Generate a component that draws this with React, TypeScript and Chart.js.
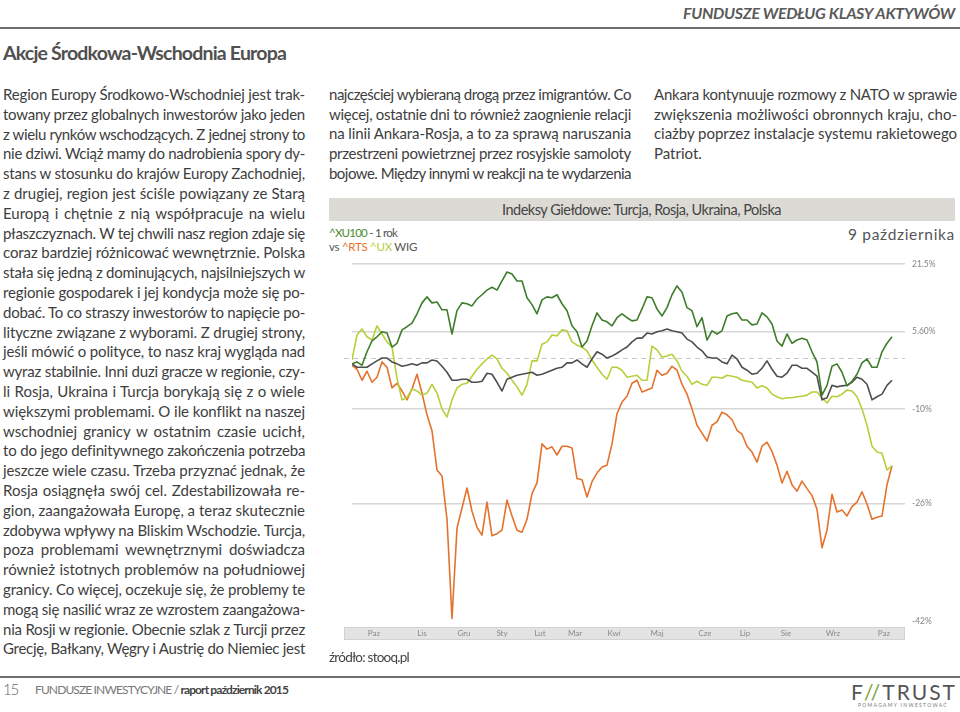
import React, { useEffect, useLayoutEffect, useRef } from 'react';
import { Chart, registerables } from 'chart.js';

Chart.register(...registerables);

// ---------- DATA ----------
const monthLabels = ['Paz', 'Lis', 'Gru', 'Sty', 'Lut', 'Mar', 'Kwi', 'Maj', 'Cze', 'Lip', 'Sie', 'Wrz', 'Paz'];
const monthTickAt = [4.4, 14, 22.4, 30, 37.6, 44.6, 52.4, 61, 70.6, 78.6, 86.8, 96.2, 106.4];
const yTickValues = [21.5, 5.6, -10, -26, -42];
const yTickLabels = ['21.5%', '5.60%', '-10%', '-26%', '-42%'];

// % change vs start, sampled evenly over one year (Oct 2014 - Oct 2015)
const xu100 = [
  -1.2, -0.8, -1.5, 1.3, 3.6, 4.5, 5.6, 5.3, 2.3, 3.1,
  6.0, 6.7, 7.5, 9.6, 12.1, 13.5, 12.1, 12.3, 10.5, 10.5,
  5.1, 10.3, 12.1, 11.9, 11.4, 13.0, 14.0, 15.1, 15.8, 15.1,
  17.3, 19.5, 19.0, 17.3, 17.3, 13.3, 11.7, 9.6, 12.8, 13.5,
  13.3, 14.0, 11.9, 10.3, 6.9, 5.6, 2.3, 3.6, 6.9, 9.8,
  8.2, 7.8, 6.9, 8.7, 9.6, 8.7, 8.0, 8.2, 10.7, 13.5,
  13.3, 10.7, 9.1, 11.0, 14.0, 16.1, 14.6, 11.0, 10.3, 6.7,
  8.7, 3.8, 5.8, 5.1, 5.8, 9.1, 9.6, 9.8, 8.2, 8.2,
  7.1, 7.3, 9.8, 8.9, 7.3, 3.6, 2.5, 5.1, 3.1, 3.8,
  4.2, 3.8, 1.3, -0.8, -7.4, -5.5, -1.7, -1.2, -2.9, -5.6,
  -4.7, -3.3, -1.0, -0.2, -1.9, -1.9, 1.3, 3.1, 4.5,
];
const rts = [
  -1.5, -2.3, -4.5, -2.7, -4.9, -3.9, -0.8, -1.9, -6.0, -5.1,
  -6.6, -8.3, -6.2, -3.3, -7.0, -11.1, -14.0, -20.7, -21.7, -28.4,
  -41.7, -29.7, -26.7, -23.6, -27.2, -29.6, -30.7, -25.8, -30.8, -30.5,
  -30.0, -25.5, -27.9, -30.0, -30.3, -28.4, -24.5, -22.8, -16.3, -17.2,
  -16.8, -18.2, -16.7, -16.7, -17.0, -22.1, -22.3, -25.0, -22.6, -21.2,
  -20.2, -19.9, -16.3, -10.9, -8.7, -7.6, -5.1, -4.5, -6.8, -6.4,
  -6.0, -2.5, -3.5, -3.1, -1.7, -2.5, -5.3, -7.2, -10.0, -13.0,
  -14.4, -15.8, -13.0, -12.4, -10.6, -11.1, -12.0, -13.9, -14.6, -16.7,
  -17.7, -19.4, -16.7, -16.0, -17.6, -19.9, -22.8, -20.9, -23.1, -24.1,
  -22.5, -23.7, -24.8, -26.9, -32.5, -30.0, -24.6, -27.3, -27.0, -27.9,
  -26.5, -25.8, -24.2, -26.1, -28.4, -28.1, -27.9, -23.1, -20.0,
];
const ux = [
  -0.4, 4.9, 6.2, 4.5, 3.8, 6.9, 5.1, 3.4, 2.3, -4.1,
  -8.3, -7.9, -6.2, -6.6, -7.4, -7.0, -5.3, -7.0, -10.0, -11.5,
  -8.3, -6.0, -5.3, -5.1, -3.7, -2.3, -1.2, -0.2, 0.6, -0.2,
  -2.1, -3.1, -4.5, -5.8, -7.4, -5.3, -0.6, -0.6, 2.9, 3.4,
  4.9, 4.7, 6.0, 5.8, 3.4, 2.7, 2.3, 1.5, -0.4, -1.9,
  -3.3, -4.3, -1.9, -1.9, -2.5, -3.9, -3.7, -3.5, -4.5, -4.5,
  2.5, 1.7, 0.2, 0.4, 0.8, -0.6, -2.7, -3.7, -5.3, -4.7,
  -5.3, -5.5, -3.9, -3.9, -4.1, -3.5, -3.7, -3.9, -4.5, -4.7,
  -4.9, -6.0, -5.6, -6.0, -7.2, -7.7, -8.1, -7.9, -7.9, -7.7,
  -7.6, -7.4, -6.8, -6.8, -7.9, -8.9, -7.6, -7.7, -7.2, -6.4,
  -6.6, -7.7, -10.0, -13.0, -16.7, -17.7, -17.9, -20.7, -20.0,
];
const wig = [
  -1.2, -1.9, -1.9, -1.9, -1.2, -0.6, 0.0, 0.0, -0.8, -1.2,
  -1.7, -1.5, -1.2, -1.5, -1.0, -1.0, -0.4, -0.6, -1.7, -2.9,
  -4.5, -4.5, -4.3, -4.3, -4.9, -4.9, -4.7, -3.1, -3.3, -4.9,
  -6.6, -4.3, -3.9, -3.5, -3.3, -3.1, -2.9, -3.5, -3.3, -2.9,
  -2.5, -2.1, -1.9, -1.0, -1.0, -0.4, -1.2, -1.9, -0.2, 1.3,
  0.8, 0.0, 0.4, 1.0, 1.7, 2.3, 3.4, 4.2, 4.2, 5.3,
  5.1, 5.6, 5.8, 6.2, 5.8, 5.6, 5.3, 4.0, 3.4, 2.3,
  1.5, 0.2, 0.0, 0.0, -0.8, -1.2, 0.6, -0.2, -1.9, -2.5,
  -3.3, -3.1, -2.1, -0.6, -2.3, -3.7, -3.9, -3.1, -1.5, -1.5,
  -2.1, -2.1, -2.9, -3.7, -8.3, -7.9, -5.5, -5.8, -5.6, -5.5,
  -4.9, -3.9, -4.3, -5.3, -8.3, -7.7, -7.2, -5.5, -4.5,
];

// ---------- TEXT ----------
const leftLines = [
  'Region  Europy Środkowo-Wschodniej jest trak-',
  'towany przez globalnych inwestorów jako jeden',
  'z wielu rynków wschodzących. Z jednej strony to',
  'nie dziwi. Wciąż mamy do nadrobienia spory dy-',
  'stans w stosunku do krajów Europy Zachodniej,',
  'z drugiej, region jest ściśle powiązany ze Starą',
  'Europą i chętnie z nią współpracuje na wielu',
  'płaszczyznach. W tej chwili nasz region zdaje się',
  'coraz bardziej różnicować wewnętrznie. Polska',
  'stała się jedną z dominujących, najsilniejszych w',
  'regionie gospodarek i jej kondycja może się po-',
  'dobać. To co straszy inwestorów to napięcie po-',
  'lityczne związane z wyborami. Z drugiej strony,',
  'jeśli mówić o polityce, to nasz kraj wygląda nad',
  'wyraz stabilnie. Inni duzi gracze w regionie, czy-',
  'li Rosja, Ukraina i Turcja borykają się z o wiele',
  'większymi problemami. O ile konflikt na naszej',
  'wschodniej granicy w ostatnim czasie ucichł,',
  'to do jego definitywnego zakończenia potrzeba',
  'jeszcze wiele czasu. Trzeba przyznać jednak, że',
  'Rosja osiągnęła swój cel. Zdestabilizowała re-',
  'gion, zaangażowała Europę, a teraz skutecznie',
  'zdobywa wpływy na Bliskim Wschodzie. Turcja,',
  'poza problemami wewnętrznymi doświadcza',
  'również istotnych problemów na południowej',
  'granicy. Co więcej, oczekuje się, że problemy te',
  'mogą się nasilić wraz ze wzrostem zaangażowa-',
  'nia Rosji w regionie. Obecnie szlak z Turcji przez',
  'Grecję, Bałkany, Węgry i Austrię do Niemiec jest',
];
const midLines = [
  'najczęściej wybieraną drogą przez imigrantów. Co',
  'więcej, ostatnie dni to również zaognienie relacji',
  'na linii Ankara-Rosja, a to za sprawą naruszania',
  'przestrzeni powietrznej przez rosyjskie samoloty',
  'bojowe. Między innymi w reakcji na te wydarzenia',
];
const rightLines = [
  'Ankara kontynuuje rozmowy z NATO w sprawie',
  'zwiększenia możliwości obronnych kraju, cho-',
  'ciażby poprzez instalacje systemu rakietowego',
  'Patriot.',
];

const FONT = 'Lato, "Noto Sans", sans-serif';
const TEXT = '#3e3e3e';

type FitProps = {
  left: number;
  top: number;
  width: number;
  mode?: 'justify' | 'letter' | 'shrink';
  style?: React.CSSProperties;
  children: React.ReactNode;
};

function Fit({ left, top, width, mode = 'justify', style, children }: FitProps) {
  const ref = useRef<HTMLSpanElement>(null);
  useLayoutEffect(() => {
    const el = ref.current;
    if (!el) return;
    const apply = () => {
      el.style.letterSpacing = '0px';
      el.style.wordSpacing = '0px';
      const natural = el.getBoundingClientRect().width;
      const text = el.textContent || '';
      const spaces = (text.replace(/ +/g, ' ').match(/ /g) || []).length;
      const chars = text.replace(/ +/g, ' ').length;
      const diff = width - natural;
      if (mode === 'letter') {
        el.style.letterSpacing = diff / chars + 'px';
      } else if (diff < 0) {
        el.style.letterSpacing = diff / chars + 'px';
      } else if (mode === 'justify' && spaces > 0) {
        el.style.wordSpacing = diff / spaces + 'px';
      }
    };
    apply();
    const f = (document as any).fonts;
    if (f && f.ready) f.ready.then(apply);
  }, [width, mode]);
  return (
    <div style={{ position: 'absolute', left, top, width, whiteSpace: 'nowrap', ...style }}>
      <span ref={ref} style={{ display: 'inline-block' }}>
        {children}
      </span>
    </div>
  );
}

function StockChart() {
  const canvasRef = useRef<HTMLCanvasElement>(null);
  useEffect(() => {
    const canvas = canvasRef.current;
    if (!canvas) return;
    const toPts = (arr: number[]) => arr.map((v, i) => ({ x: i, y: 1 + v / 100 }));
    const tickRatios = yTickValues.map((v) => 1 + v / 100);
    const decor = {
      id: 'decor',
      beforeDraw(chart: any) {
        const { ctx, chartArea } = chart;
        ctx.save();
        ctx.fillStyle = '#e3e3e3';
        ctx.strokeStyle = '#d2d2d2';
        ctx.lineWidth = 1;
        const x0 = chartArea.left - 8;
        const y0 = chartArea.bottom + 6;
        ctx.fillRect(x0, y0, chartArea.right - x0, 13);
        ctx.strokeRect(x0 + 0.5, y0 + 0.5, chartArea.right - x0 - 1, 12);
        ctx.restore();
      },
      beforeDatasetsDraw(chart: any) {
        const { ctx, chartArea, scales } = chart;
        const y = Math.round(scales.y.getPixelForValue(1)) + 0.5;
        ctx.save();
        ctx.strokeStyle = '#c8c8c8';
        ctx.lineWidth = 1.2;
        ctx.setLineDash([5, 4]);
        ctx.beginPath();
        ctx.moveTo(chartArea.left - 8, y);
        ctx.lineTo(chartArea.right, y);
        ctx.stroke();
        ctx.restore();
      },
    };
    const common = { pointRadius: 0, borderWidth: 1.6, tension: 0, borderJoinStyle: 'round' as const, fill: false };
    const chart = new Chart(canvas, {
      type: 'line',
      data: {
        datasets: [
          { label: '^XU100', data: toPts(xu100), borderColor: '#3f7d2b', ...common },
          { label: 'WIG', data: toPts(wig), borderColor: '#4e4e4e', ...common },
          { label: '^UX', data: toPts(ux), borderColor: '#b7cf3a', ...common },
          { label: '^RTS', data: toPts(rts), borderColor: '#e5722c', ...common },
        ],
      },
      options: {
        responsive: false,
        maintainAspectRatio: false,
        animation: false,
        devicePixelRatio: 1,
        events: [],
        layout: { padding: { left: 32, top: 14, right: 0, bottom: 0 } },
        plugins: { legend: { display: false }, tooltip: { enabled: false }, title: { display: false } },
        scales: {
          x: {
            type: 'linear',
            min: 0,
            max: 110.6,
            afterBuildTicks: (s: any) => {
              s.ticks = monthTickAt.map((v) => ({ value: v }));
            },
            afterFit: (s: any) => {
              s.height = 29;
            },
            grid: { display: false, drawTicks: false },
            border: { display: false },
            ticks: {
              autoSkip: false,
              maxRotation: 0,
              padding: 8,
              color: '#8a8a8a',
              font: { family: FONT, size: 8 },
              callback: (_v: any, i: number) => monthLabels[i],
            },
          },
          y: {
            type: 'logarithmic',
            position: 'right',
            min: 0.58,
            max: 1.215,
            afterBuildTicks: (s: any) => {
              s.ticks = tickRatios.map((v) => ({ value: v }));
            },
            afterFit: (s: any) => {
              s.width = 55;
            },
            grid: {
              drawTicks: false,
              lineWidth: 1.5,
              color: (c: any) => (c.tick && c.tick.value < 0.6 ? 'rgba(0,0,0,0)' : '#d6d6d6'),
            },
            border: { display: false },
            ticks: {
              autoSkip: false,
              padding: 7,
              color: '#858585',
              font: { family: FONT, size: 8.5 },
              callback: (_v: any, i: number) => yTickLabels[i],
            },
          },
        },
      },
      plugins: [decor],
    } as any);
    return () => chart.destroy();
  }, []);
  return (
    <canvas
      ref={canvasRef}
      width={640}
      height={400}
      style={{ position: 'absolute', left: 320, top: 250, width: 640, height: 400 }}
    />
  );
}

export default function App() {
  const bodyStyle: React.CSSProperties = { fontSize: 15, lineHeight: '19.8px', color: TEXT };
  return (
    <div
      style={{
        position: 'absolute',
        left: 0,
        top: 0,
        width: 960,
        height: 712,
        overflow: 'hidden',
        background: '#ffffff',
        fontFamily: FONT,
      }}
    >
      {/* header */}
      <Fit left={683} top={3} width={272} mode="letter" style={{ fontSize: 16, lineHeight: '19px', fontStyle: 'italic', fontWeight: 700, color: '#5a5a5a' }}>
        FUNDUSZE WEDŁUG KLASY AKTYWÓW
      </Fit>
      <div style={{ position: 'absolute', left: 0, top: 27, width: 960, height: 2, background: '#6f6f6f' }} />

      <Fit left={3} top={41} width={283} mode="letter" style={{ fontSize: 19.5, lineHeight: '24px', fontWeight: 700, color: '#505050' }}>
        Akcje Środkowa-Wschodnia Europa
      </Fit>

      {leftLines.map((t, i) => (
        <Fit key={'l' + i} left={3} top={85 + i * 19.8} width={302} style={bodyStyle}>
          {t}
        </Fit>
      ))}
      {midLines.map((t, i) => (
        <Fit key={'m' + i} left={329} top={85 + i * 19.7} width={302} style={bodyStyle}>
          {t}
        </Fit>
      ))}
      {rightLines.map((t, i) => (
        <Fit
          key={'r' + i}
          left={654}
          top={85 + i * 19.7}
          width={303}
          mode={i === rightLines.length - 1 ? 'shrink' : 'justify'}
          style={bodyStyle}
        >
          {t}
        </Fit>
      ))}

      {/* chart box */}
      <div style={{ position: 'absolute', left: 329, top: 198, width: 626, height: 23, background: '#dcdad5' }} />
      <Fit left={502} top={201} width={279} mode="letter" style={{ fontSize: 14.5, lineHeight: '17px', color: '#444' }}>
        Indeksy Giełdowe: Turcja, Rosja, Ukraina, Polska
      </Fit>
      <Fit left={329} top={226} width={68} mode="letter" style={{ fontSize: 11.5, lineHeight: '14px', color: '#555' }}>
        <span style={{ color: '#4a8a2e' }}>^XU100</span> - 1 rok
      </Fit>
      <Fit left={329} top={240} width={88} mode="letter" style={{ fontSize: 11.5, lineHeight: '14px', color: '#555' }}>
        vs <span style={{ color: '#e5722c' }}>^RTS</span> <span style={{ color: '#b7cf3a' }}>^UX</span> WIG
      </Fit>
      <Fit left={848} top={225} width={107} mode="letter" style={{ fontSize: 15.5, lineHeight: '18px', color: '#555' }}>
        9 października
      </Fit>

      <StockChart />

      <Fit left={329} top={649} width={80} mode="letter" style={{ fontSize: 13.5, lineHeight: '17px', color: '#444' }}>
        źródło: stooq.pl
      </Fit>

      {/* footer */}
      <div style={{ position: 'absolute', left: 0, top: 676, width: 960, height: 2, background: '#6f6f6f' }} />
      <Fit left={3} top={680} width={15} mode="letter" style={{ fontSize: 15, lineHeight: '18px', color: '#666', fontWeight: 300 }}>
        15
      </Fit>
      <Fit left={35} top={682} width={253} mode="letter" style={{ fontSize: 12, lineHeight: '15px', color: '#777' }}>
        FUNDUSZE INWESTYCYJNE / <b style={{ color: '#444' }}>raport październik 2015</b>
      </Fit>
      <Fit left={851} top={680} width={106} mode="letter" style={{ fontSize: 21, lineHeight: '24px', color: '#555' }}>
        F<span style={{ color: '#7da33a' }}>//</span>TRUST
      </Fit>
      <Fit left={858} top={702} width={90} mode="letter" style={{ fontSize: 5, lineHeight: '7px', color: '#777' }}>
        POMAGAMY INWESTOWAĆ
      </Fit>
    </div>
  );
}
